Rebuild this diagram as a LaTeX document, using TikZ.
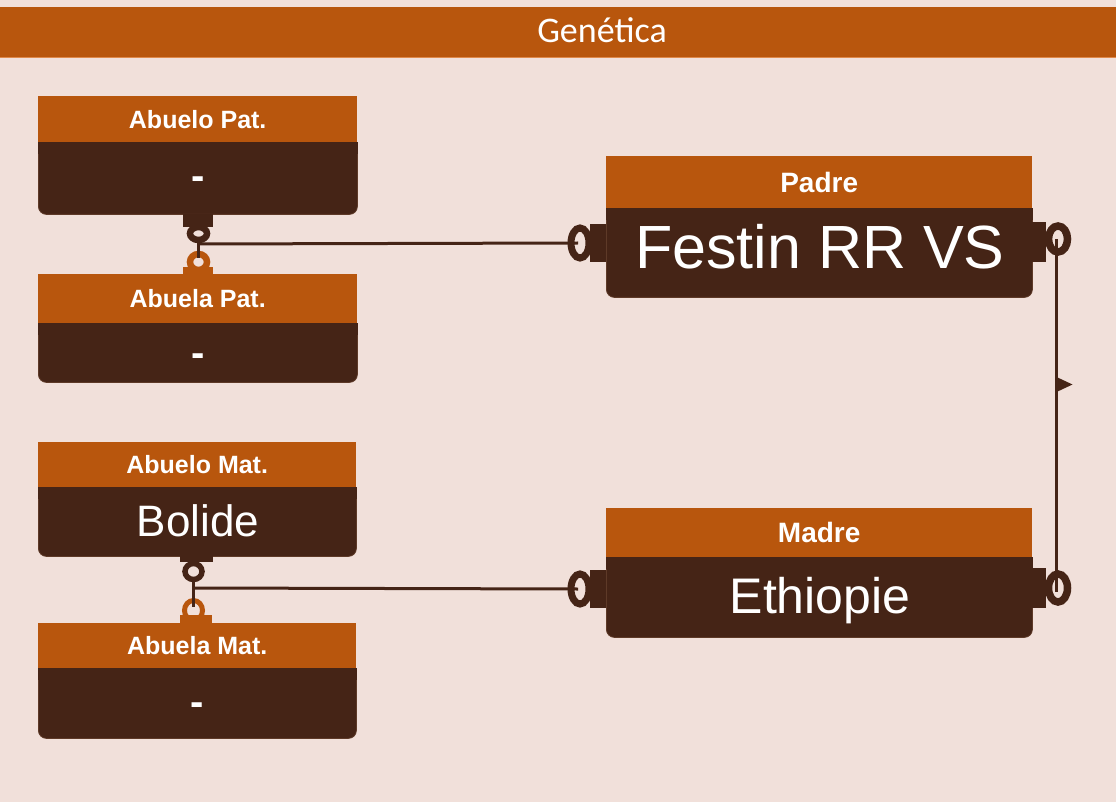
\documentclass[tikz,border=0pt]{standalone}
\usepackage{fontspec}
\setmainfont{Liberation Sans}
\newfontfamily\titlefont{Carlito}
\usetikzlibrary{shapes.geometric}
\definecolor{bg}{HTML}{F1E0DA}
\definecolor{orng}{HTML}{B8560D}
\definecolor{dkbr}{HTML}{452416}
\definecolor{edgec}{HTML}{5E3A28}
\definecolor{barline}{HTML}{E0894A}
\begin{document}
\begin{tikzpicture}[x=1pt,y=-1pt,
  hdr/.style={fill=orng, draw=none, inner sep=0pt, anchor=north west, text=white,
    font=\bfseries\fontsize{25}{25}\selectfont, text height=18pt, text depth=0pt},
  bdy/.style={fill=dkbr, draw=edgec, line width=0.8pt, rounded corners=8pt, inner sep=0pt, anchor=north west},
  btxt/.style={text=white, inner sep=0pt, text depth=0pt},
  dashtxt/.style={text=white, inner sep=0pt, font=\bfseries\fontsize{40}{40}\selectfont, text height=24pt, text depth=0pt},
  tabbox/.style={inner sep=0pt, draw=none},
  ring/.style={ellipse, inner sep=0pt, fill=none},
  conn/.style={draw=dkbr, line width=3pt}
]
\useasboundingbox (0,0) rectangle (1116,802);
\fill[bg] (0,0) rectangle (1116,802);
% title bar
\node[fill=orng, minimum width=1116pt, minimum height=50pt, inner sep=0pt, anchor=north west] (bar) at (0,7) {};
\draw[barline, line width=1pt] (bar.south west) -- (bar.south east);
\node[text=white, inner sep=0pt, font=\titlefont\fontsize{36}{36}\selectfont, text height=23pt, text depth=0pt] (title) at (602,31) {Genética};

% ---------- Abuelo Pat.
\node[bdy, minimum width=319pt, minimum height=72pt] (apB) at (38,142) {};
\fill[dkbr] (apB.north west) rectangle ([yshift=-12pt]apB.north east);
\node[hdr, minimum width=319pt, minimum height=46pt] (apH) at (38,96) {Abuelo Pat.};
\node[dashtxt] (apT) at (198,178) {-};

% ---------- Abuela Pat.
\node[bdy, minimum width=319pt, minimum height=59pt] (aaB) at (38,323) {};
\fill[dkbr] (aaB.north west) rectangle ([yshift=-12pt]aaB.north east);
\node[hdr, minimum width=319pt, minimum height=49pt] (aaH) at (38,274) {Abuela Pat.};
\node[dashtxt] (aaT) at (198,354) {-};

% ---------- Abuelo Mat.
\node[bdy, minimum width=318pt, minimum height=69pt] (amB) at (38,487) {};
\fill[dkbr] (amB.north west) rectangle ([yshift=-12pt]amB.north east);
\node[hdr, minimum width=318pt, minimum height=45pt] (amH) at (38,442) {Abuelo Mat.};
\node[btxt, font=\fontsize{44}{44}\selectfont, text height=31.5pt] (amT) at (198,521) {Bolide};

% ---------- Abuela Mat.
\node[bdy, minimum width=318pt, minimum height=70pt] (amaB) at (38,668) {};
\fill[dkbr] (amaB.north west) rectangle ([yshift=-12pt]amaB.north east);
\node[hdr, minimum width=318pt, minimum height=45pt] (amaH) at (38,623) {Abuela Mat.};
\node[dashtxt] (amaT) at (197,703) {-};

% ---------- Padre
\node[bdy, minimum width=426pt, minimum height=89pt] (paB) at (606,208) {};
\fill[dkbr] (paB.north west) rectangle ([yshift=-12pt]paB.north east);
\node[hdr, minimum width=426pt, minimum height=52pt, font=\bfseries\fontsize{28}{28}\selectfont, text height=20pt] (paH) at (606,156) {Padre};
\node[btxt, font=\fontsize{61}{61}\selectfont, text height=43.7pt] (paT) at (820,247) {Festin RR VS};

% ---------- Madre
\node[bdy, minimum width=426pt, minimum height=80pt] (maB) at (606,557) {};
\fill[dkbr] (maB.north west) rectangle ([yshift=-12pt]maB.north east);
\node[hdr, minimum width=426pt, minimum height=49pt, font=\bfseries\fontsize{28}{28}\selectfont, text height=20pt] (maH) at (606,508) {Madre};
\node[btxt, font=\fontsize{50}{50}\selectfont, text height=35.8pt] (maT) at (820,596) {Ethiopie};

% ---------- connector: paternal grandparents -> Padre
\node[tabbox, fill=dkbr, minimum width=30pt, minimum height=13pt, anchor=north] (apTab) at (198,214) {};
\node[ring, draw=dkbr, line width=6.5pt, minimum width=17pt, minimum height=13pt] (apRing) at (198.5,233.5) {};
\node[tabbox, fill=orng, minimum width=30pt, minimum height=7pt, anchor=south] (aaTab) at (198,274) {};
\node[ring, draw=orng, line width=6.5pt, minimum width=17pt, minimum height=16pt] (aaRing) at (198.5,262) {};
\coordinate (pJ) at (198,244);
\draw[conn] ([yshift=-4pt]apRing.center) -- ([yshift=4pt]aaRing.center);
\node[tabbox, fill=dkbr, minimum width=16pt, minimum height=38pt, anchor=east] (paLTab) at (606,243) {};
\node[ring, draw=dkbr, line width=7pt, minimum width=18pt, minimum height=30pt] (paLRing) at (580,243) {};
\draw[conn] (pJ) -- ([xshift=-2pt]paLRing.center);

% ---------- connector: maternal grandparents -> Madre
\node[tabbox, fill=dkbr, minimum width=33pt, minimum height=7pt, anchor=north] (amTab) at (196,555) {};
\node[ring, draw=dkbr, line width=5.5pt, minimum width=17pt, minimum height=16pt] (amRing) at (193.5,571.5) {};
\node[tabbox, fill=orng, minimum width=32pt, minimum height=8pt, anchor=south] (amaTab) at (196,623) {};
\node[ring, draw=orng, line width=5pt, minimum width=18pt, minimum height=20pt] (amaRing) at (193.5,610.5) {};
\coordinate (mJ) at (194,588);
\draw[conn] ([yshift=-6pt]amRing.center) -- ([yshift=4pt]amaRing.center);
\node[tabbox, fill=dkbr, minimum width=16pt, minimum height=38pt, anchor=east] (maLTab) at (606,589) {};
\node[ring, draw=dkbr, line width=7pt, minimum width=18pt, minimum height=30pt] (maLRing) at (580,589) {};
\draw[conn] (mJ) -- ([xshift=-2pt]maLRing.center);

% ---------- connector: Padre -> Madre (right side)
\node[tabbox, fill=dkbr, minimum width=14pt, minimum height=40pt, anchor=west] (paRTab) at (1032,242) {};
\node[ring, draw=dkbr, line width=7.5pt, minimum width=19pt, minimum height=26pt] (paRRing) at (1058,239) {};
\node[tabbox, fill=dkbr, minimum width=14pt, minimum height=40pt, anchor=west] (maRTab) at (1032,588) {};
\node[ring, draw=dkbr, line width=7.5pt, minimum width=19pt, minimum height=28pt] (maRRing) at (1058,588) {};
\draw[conn] ([xshift=-1.5pt]paRRing.center) -- ([xshift=-1.5pt,yshift=-4pt]maRRing.center);
\coordinate (flag) at (1056.5,384.5);
\fill[dkbr] ([yshift=7.5pt]flag) -- ++(16,7.5) -- ++(-16,7.5) -- cycle;
\end{tikzpicture}
\end{document}
